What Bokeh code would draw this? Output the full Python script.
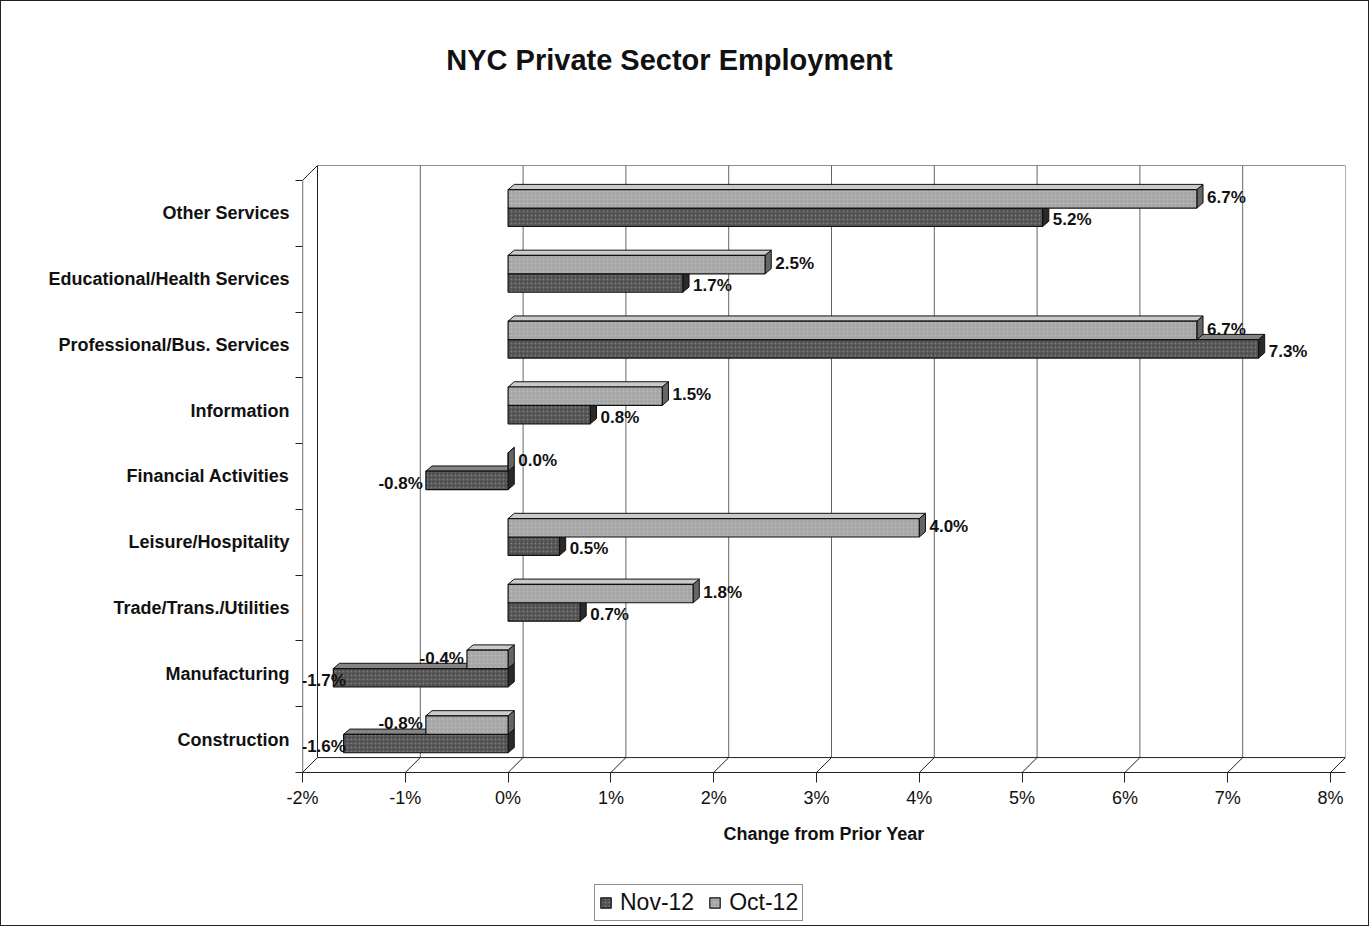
from bokeh.plotting import figure
from bokeh.layouts import column
from bokeh.models import (Range1d, FixedTicker, PrintfTickFormatter, Label,
                          Legend, LegendItem, ColumnDataSource)
from bokeh.embed import file_html
from bokeh.resources import INLINE
from bokeh.core.properties import value

# ---------------- data ----------------
categories = ["Construction", "Manufacturing", "Trade/Trans./Utilities",
              "Leisure/Hospitality", "Financial Activities", "Information",
              "Professional/Bus. Services", "Educational/Health Services",
              "Other Services"]
nov12 = [-1.6, -1.7, 0.7, 0.5, -0.8, 0.8, 7.3, 1.7, 5.2]
oct12 = [-0.8, -0.4, 1.8, 4.0, 0.0, 1.5, 6.7, 2.5, 6.7]
series_names = ["Nov-12", "Oct-12"]
x_ticks = [-2, -1, 0, 1, 2, 3, 4, 5, 6, 7, 8]
title_text = "NYC Private Sector Employment"
x_title = "Change from Prior Year"

# ---------------- style constants ----------------
FONT = "Liberation Sans"
INK = "#111111"
DXW, DYW = 0.146, 0.227      # 3D wall depth (data units)
BDX, BDY = 0.06, 0.08        # bar depth
LABEL_W = 0.5                # approx data-label width in data units
NOV_FILL, NOV_TOP, NOV_END = "#525252", "#858585", "#2a2a2a"
OCT_FILL, OCT_TOP, OCT_END = "#a6a6a6", "#cacaca", "#666666"

ymin, ymax = -0.5, len(categories) - 0.5
xmin, xmax = x_ticks[0], x_ticks[-1]
W = 1367


def blank_fig(height):
    f = figure(width=W, height=height, output_backend="svg", toolbar_location=None,
               x_axis_type=None, y_axis_type=None,
               x_range=Range1d(xmin, xmax + DXW), y_range=Range1d(0, 1), min_border=0)
    f.outline_line_color = None
    f.xgrid.visible = False
    f.ygrid.visible = False
    return f


# ---------------- title strip ----------------
tf = blank_fig(116)
tf.add_layout(Label(x=1.57, y=0.5, text=title_text, text_align="center",
                    text_baseline="middle", text_font=FONT, text_font_size="29px",
                    text_font_style="bold", text_color=INK))

# ---------------- main chart ----------------
p = figure(width=W, height=764, output_backend="svg", toolbar_location=None,
           x_range=Range1d(xmin, xmax + DXW), y_range=Range1d(ymin, ymax + DYW),
           min_border_left=301, min_border_right=23, min_border_top=48,
           min_border_bottom=109)
p.outline_line_color = None
p.xgrid.visible = False
p.ygrid.visible = False

# 3D box (walls / floor)
gx = [t + DXW for t in x_ticks]
p.segment(x0=gx, y0=[ymin + DYW] * len(gx), x1=gx, y1=[ymax + DYW] * len(gx),
          line_color="#666666", line_width=1)
p.segment(x0=x_ticks, y0=[ymin] * len(x_ticks), x1=gx, y1=[ymin + DYW] * len(gx),
          line_color="#222222", line_width=1)
p.segment(x0=[xmin + DXW, xmin + DXW, xmin, xmin + DXW],
          y0=[ymin + DYW, ymax + DYW, ymax, ymin + DYW],
          x1=[xmax + DXW, xmax + DXW, xmin + DXW, xmin + DXW],
          y1=[ymin + DYW, ymax + DYW, ymax + DYW, ymax + DYW],
          line_color="#222222", line_width=1)
p.segment(x0=[xmin], y0=[ymin], x1=[xmin], y1=[ymax], line_color="#222222", line_width=1.3)


def bar_geometry(vals, lo, hi):
    fr = dict(left=[], right=[], bottom=[], top=[])
    top_xs, top_ys, end_xs, end_ys = [], [], [], []
    for i, v in enumerate(vals):
        x0, x1 = min(0, v), max(0, v)
        y0, y1 = i + lo, i + hi
        fr["left"].append(x0); fr["right"].append(x1)
        fr["bottom"].append(y0); fr["top"].append(y1)
        top_xs.append([x0, x1, x1 + BDX, x0 + BDX])
        top_ys.append([y1, y1, y1 + BDY, y1 + BDY])
        end_xs.append([x1, x1 + BDX, x1 + BDX, x1])
        end_ys.append([y0, y0 + BDY, y1 + BDY, y1])
    return fr, top_xs, top_ys, end_xs, end_ys


bar_style = dict(line_color=INK, line_width=1.2, hatch_pattern="dot", hatch_scale=4,
                 hatch_color="white", hatch_alpha=0.25)
for vals, lo, hi, fill, topc, endc in [(nov12, -0.2, 0.08, NOV_FILL, NOV_TOP, NOV_END),
                                       (oct12, 0.08, 0.36, OCT_FILL, OCT_TOP, OCT_END)]:
    fr, txs, tys, exs, eys = bar_geometry(vals, lo, hi)
    p.patches(xs=txs, ys=tys, fill_color=topc, line_color=INK, line_width=1)
    p.patches(xs=exs, ys=eys, fill_color=endc, line_color=INK, line_width=1)
    p.quad(source=ColumnDataSource(fr), left="left", right="right", bottom="bottom",
           top="top", fill_color=fill, **bar_style)

# data labels
for vals, yoff in [(nov12, -0.1), (oct12, 0.24)]:
    groups = {"left": dict(x=[], y=[], t=[], o=[]), "right": dict(x=[], y=[], t=[], o=[])}
    for i, v in enumerate(vals):
        if v >= 0:
            g = groups["left"]; g["x"].append(v + BDX); g["o"].append(4)
        elif v - LABEL_W < xmin:
            g = groups["left"]; g["x"].append(xmin); g["o"].append(-1)
        else:
            g = groups["right"]; g["x"].append(v); g["o"].append(-3)
        g["y"].append(i + yoff)
        g["t"].append("%.1f%%" % v)
    for align, g in groups.items():
        p.text(source=ColumnDataSource(g), x="x", y="y", text="t", x_offset="o",
               text_align=align, text_baseline="middle", text_font=value(FONT),
               text_font_size="17px", text_font_style="bold", text_color=INK)

# axes
xa = p.xaxis[0]
xa.ticker = FixedTicker(ticks=x_ticks, minor_ticks=[])
xa.formatter = PrintfTickFormatter(format="%d%%")
xa.axis_label = x_title
xa.axis_label_text_font = FONT
xa.axis_label_text_font_size = "18px"
xa.axis_label_text_font_style = "bold"
xa.axis_label_text_color = INK
xa.axis_label_standoff = 13
xa.major_label_text_font = FONT
xa.major_label_text_font_size = "18px"
xa.major_label_text_color = INK
xa.major_label_standoff = 5
xa.major_tick_out = 10
xa.major_tick_in = 0
xa.axis_line_color = "#222222"
xa.major_tick_line_color = "#222222"

ya = p.yaxis[0]
centers = list(range(len(categories)))
bounds = [c - 0.5 for c in centers] + [ymax]
ya.ticker = FixedTicker(ticks=centers, minor_ticks=bounds)
ya.major_label_overrides = {i: c for i, c in enumerate(categories)}
ya.major_label_text_font = FONT
ya.major_label_text_font_size = "18px"
ya.major_label_text_font_style = "bold"
ya.major_label_text_color = INK
ya.major_label_standoff = 6
ya.major_tick_out = 0
ya.major_tick_in = 0
ya.minor_tick_out = 7
ya.minor_tick_in = 0
ya.minor_tick_line_color = "#222222"
ya.axis_line_color = None

# ---------------- legend strip ----------------
lg = blank_fig(44)
nan_box = dict(left=[float("nan")], right=[float("nan")],
               bottom=[float("nan")], top=[float("nan")])
r_nov = lg.quad(source=ColumnDataSource(nan_box), left="left", right="right",
                bottom="bottom", top="top", fill_color=NOV_FILL, **bar_style)
r_oct = lg.quad(source=ColumnDataSource(dict(nan_box)), left="left", right="right",
                bottom="bottom", top="top", fill_color=OCT_FILL, **bar_style)
legend = Legend(items=[LegendItem(label=series_names[0], renderers=[r_nov]),
                       LegendItem(label=series_names[1], renderers=[r_oct])],
                location=(292, 4), orientation="horizontal",
                label_text_font=FONT, label_text_font_size="23px", label_text_color=INK,
                glyph_width=13, glyph_height=13, spacing=14, padding=4,
                label_standoff=8, border_line_color="#222222", border_line_width=1,
                label_height=22)
lg.add_layout(legend)

layout = column(tf, p, lg, spacing=0)
layout.styles = {"border": "1px solid #222"}

open("out.html", "w").write(file_html(layout, INLINE))
